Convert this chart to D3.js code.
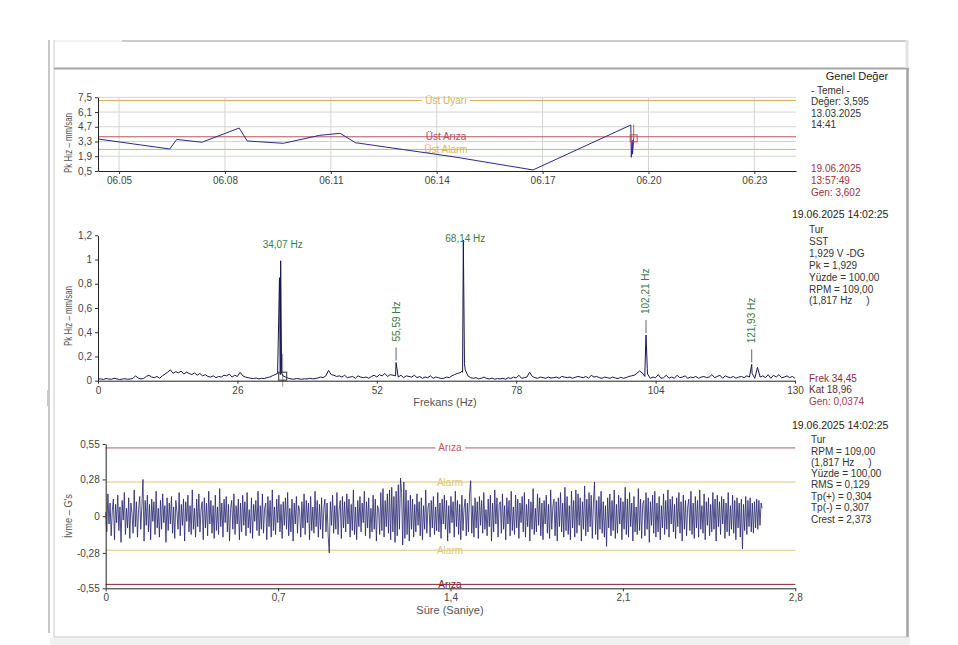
<!doctype html>
<html lang='en'>
<head>
<meta charset='utf-8' />
<style>
  * { margin: 0; padding: 0; }
  body { background: #fff; width: 958px; height: 645px; overflow: hidden; }
  svg { display: block; font-family: 'Liberation Sans', Arial, sans-serif; }
</style>
</head>
<body>
<div id='container'></div>
<script src='https://d3js.org/d3.v7.min.js'></script>
<script>

// --- top: overall value trend ---
var trendDates = ['2025-06-04 09:40', '2025-06-06 10:30', '2025-06-06 15:10', '2025-06-07 08:20',
  '2025-06-08 09:40', '2025-06-08 15:10', '2025-06-09 15:40', '2025-06-10 16:30', '2025-06-11 06:20',
  '2025-06-11 16:40', '2025-06-14 11:00', '2025-06-16 17:30', '2025-06-19 12:00', '2025-06-19 12:20',
  '2025-06-19 13:00', '2025-06-19 13:10', '2025-06-19 13:57'];
var trendValues = [3.54, 2.59, 3.50, 3.23, 4.58, 3.35, 3.13, 3.89, 4.08, 3.19, 1.86, 0.60, 4.87, 1.80, 3.40, 2.10, 3.60];
var trendTicks = ['2025-06-05 00:00', '2025-06-08 00:00', '2025-06-11 00:00', '2025-06-14 00:00',
  '2025-06-17 00:00', '2025-06-20 00:00', '2025-06-23 00:00'];
var trendYTicks = [0.5, 1.9, 3.3, 4.7, 6.1, 7.5];
var trendLimits = [7.2, 3.75, 2.55];
var trendLimitNames = ['Üst Uyarı', 'Üst Arıza', 'Üst Alarm'];
var trendLimitColors = ['#d8b25a', '#b4505c', '#dcb45e'];

// --- middle: spectrum ---
var specStep = 0.5;
var specFloor = [
  0.012,0.015,0.01,0.018,0.014,0.012,0.02,0.015,0.01,0.013,
  0.016,0.012,0.014,0.018,0.04,0.022,0.015,0.018,0.035,0.045,
  0.03,0.025,0.035,0.02,0.04,0.055,0.07,0.09,0.06,0.075,
  0.065,0.08,0.055,0.07,0.06,0.05,0.065,0.045,0.06,0.04,
  0.05,0.035,0.03,0.04,0.025,0.035,0.03,0.045,0.04,0.055,
  0.03,0.045,0.035,0.07,0.04,0.03,0.025,0.02,0.018,0.022,
  0.015,0.02,0.018,0.025,0.03,0.04,0.05,0.06,0.05,0.04,
  0.03,0.02,0.015,0.012,0.018,0.015,0.012,0.016,0.014,0.02,
  0.015,0.018,0.022,0.03,0.025,0.04,0.085,0.05,0.045,0.035,
  0.04,0.03,0.045,0.025,0.03,0.035,0.02,0.04,0.03,0.025,
  0.03,0.02,0.035,0.045,0.03,0.05,0.04,0.06,0.035,0.05,
  0.045,0.04,0.03,0.045,0.025,0.04,0.035,0.03,0.045,0.025,
  0.035,0.02,0.03,0.025,0.04,0.02,0.03,0.025,0.018,0.02,
  0.03,0.025,0.04,0.05,0.06,0.065,0.07,0.09,0.04,0.025,
  0.02,0.025,0.015,0.02,0.03,0.018,0.015,0.022,0.012,0.018,
  0.015,0.02,0.012,0.025,0.018,0.03,0.022,0.045,0.02,0.025,
  0.03,0.07,0.035,0.025,0.02,0.03,0.025,0.02,0.03,0.022,
  0.025,0.03,0.02,0.035,0.03,0.025,0.03,0.02,0.028,0.035,
  0.03,0.025,0.035,0.02,0.045,0.03,0.035,0.025,0.02,0.03,
  0.025,0.02,0.03,0.022,0.018,0.028,0.02,0.025,0.035,0.04,
  0.045,0.06,0.08,0.065,0.035,0.055,0.02,0.03,0.025,0.05,
  0.02,0.025,0.045,0.02,0.03,0.02,0.045,0.025,0.03,0.04,
  0.02,0.03,0.025,0.035,0.02,0.03,0.035,0.025,0.03,0.05,
  0.025,0.035,0.045,0.02,0.04,0.03,0.025,0.035,0.02,0.03,
  0.035,0.025,0.04,0.03,0.06,0.02,0.11,0.03,0.04,0.025,
  0.05,0.02,0.045,0.03,0.05,0.025,0.03,0.04,0.025,0.035,
  0.02];
var specPeakFreqs = [34.07, 55.59, 68.14, 102.21, 121.93];
var specPeakAmps = [0.99, 0.15, 1.16, 0.377, 0.135];
var specPeakLabels = ['34,07 Hz', '55,59 Hz', '68,14 Hz', '102,21 Hz', '121,93 Hz'];
var specPeakVertical = [false, true, false, true, true];
var specSideFreqs = [33.85, 34.25, 67.95, 68.35, 102.0, 102.45];
var specSideAmps = [0.85, 0.06, 0.08, 0.14, 0.07, 0.1];
var specXTicks = [0, 26, 52, 78, 104, 130];
var specYTicks = [0, 0.2, 0.4, 0.6, 0.8, 1, 1.2];
var cursorFreq = 34.45, cursorAmp = 0.0374, cursorTop = 0.22;

// --- bottom: time waveform ---
var waveStep = 0.00445;
var waveValues = [
  0.03,-0.12,0.17,-0.06,0.1,-0.15,0.04,0.13,-0.18,0.09,-0.05,0.16,-0.11,0.07,-0.2,0.12,-0.03,0.18,-0.14,0.06,
  -0.09,0.14,-0.17,0.1,0.02,-0.13,0.2,-0.08,0.11,-0.16,0.05,0.15,-0.1,0.08,0.28,-0.19,0.12,-0.07,0.16,-0.12,
  0.09,-0.18,0.13,-0.04,0.11,-0.14,0.19,-0.09,0.06,-0.16,0.12,-0.1,0.17,-0.05,0.08,-0.2,0.14,-0.11,0.1,-0.06,
  0.15,-0.13,0.07,-0.17,0.12,0.03,-0.1,0.18,-0.15,0.09,-0.07,0.13,-0.19,0.11,-0.04,0.16,-0.12,0.08,-0.14,0.2,
  -0.1,0.06,-0.16,0.13,-0.08,0.17,-0.12,0.05,0.11,-0.18,0.14,-0.09,0.1,-0.15,0.19,-0.06,0.12,-0.13,0.08,-0.17,
  0.16,-0.11,0.07,-0.14,0.21,-0.08,0.1,-0.16,0.13,-0.05,0.15,-0.12,0.09,-0.19,0.06,0.12,-0.1,0.17,-0.14,0.08,
  -0.06,0.13,-0.18,0.1,-0.12,0.16,-0.07,0.11,-0.15,0.18,-0.09,0.05,-0.13,0.14,-0.17,0.09,-0.04,0.12,-0.11,0.19,
  -0.15,0.08,-0.1,0.17,-0.13,0.06,0.1,-0.18,0.15,-0.08,0.12,-0.16,0.2,-0.11,0.07,-0.14,0.13,-0.05,0.16,-0.12,
  0.09,-0.17,0.11,-0.07,0.14,-0.1,0.18,-0.15,0.06,-0.12,0.13,-0.19,0.1,-0.06,0.15,-0.13,0.08,0.04,-0.16,0.11,
  -0.09,0.17,-0.14,0.12,-0.05,0.1,-0.18,0.15,-0.11,0.07,-0.13,0.19,-0.08,0.12,-0.16,0.09,-0.1,0.14,-0.17,0.06,
  0.13,-0.12,0.1,-0.15,-0.28,0.11,-0.07,0.16,-0.13,0.08,-0.1,0.18,-0.14,0.05,0.12,-0.17,0.15,-0.09,0.11,-0.12,
  0.17,-0.06,0.13,-0.16,0.09,-0.11,0.2,-0.14,0.07,-0.18,0.12,-0.08,0.15,-0.12,0.1,-0.05,0.19,-0.15,0.11,-0.09,
  0.14,-0.17,0.06,-0.12,0.16,-0.1,0.13,-0.19,0.08,0.05,-0.14,0.18,-0.11,0.21,-0.16,0.12,-0.08,0.17,-0.13,0.2,
  -0.18,0.22,-0.12,0.15,-0.2,0.19,-0.15,0.24,-0.1,0.29,0.18,-0.22,0.26,-0.17,0.2,-0.14,0.12,-0.19,0.16,-0.1,
  0.13,-0.16,0.09,-0.12,0.17,-0.07,0.11,-0.15,0.14,-0.18,0.08,-0.1,0.2,-0.13,0.06,0.1,-0.16,0.12,-0.09,0.15,
  -0.14,0.07,-0.11,0.18,-0.12,0.1,-0.17,0.13,-0.06,0.16,-0.1,0.12,-0.19,0.08,-0.13,0.15,-0.05,0.11,-0.16,0.19,
  -0.08,0.12,-0.14,0.09,-0.18,0.16,-0.11,0.06,0.13,-0.15,0.1,-0.12,0.17,0.27,-0.13,0.08,-0.16,0.14,-0.09,0.11,
  -0.17,0.15,-0.07,0.12,-0.13,0.18,-0.1,0.05,-0.15,0.13,-0.08,0.16,-0.19,0.1,-0.12,0.2,-0.06,0.14,-0.16,0.09,
  0.11,-0.13,0.17,-0.1,0.08,-0.18,0.14,-0.06,0.12,-0.15,0.19,-0.11,0.07,-0.14,0.16,-0.09,0.13,-0.17,0.1,-0.05,
  0.15,-0.12,0.18,-0.16,0.09,-0.08,0.13,-0.19,0.11,-0.1,0.21,-0.14,0.06,-0.12,0.17,-0.07,0.14,-0.15,0.1,-0.18,
  0.12,-0.06,0.16,-0.13,0.09,-0.17,0.2,-0.1,0.07,0.13,-0.15,0.11,-0.19,0.14,-0.08,0.18,-0.12,0.1,-0.16,0.22,
  -0.11,0.15,-0.14,0.08,-0.18,0.19,-0.09,0.12,-0.16,0.2,-0.13,0.17,-0.07,0.14,-0.19,0.11,-0.1,0.23,-0.15,0.13,
  -0.12,0.18,-0.08,0.16,-0.17,0.1,0.26,-0.14,0.12,-0.18,0.15,-0.1,0.19,-0.13,0.11,-0.16,0.08,-0.23,0.14,-0.09,
  0.17,-0.15,0.12,-0.11,0.2,-0.17,0.09,-0.13,0.16,-0.06,0.14,-0.18,0.11,-0.1,0.22,-0.14,0.13,-0.16,0.18,-0.08,
  0.1,-0.19,0.15,-0.12,0.07,-0.14,0.21,-0.11,0.13,-0.17,0.09,0.12,-0.15,0.18,-0.1,0.14,-0.2,0.11,-0.07,0.16,
  -0.13,0.19,-0.16,0.1,-0.12,0.15,-0.18,0.08,-0.09,0.17,-0.14,0.12,-0.1,0.2,-0.16,0.13,-0.06,0.15,-0.12,0.09,
  -0.17,0.14,-0.08,0.18,-0.13,0.11,-0.19,0.16,-0.1,0.12,-0.15,0.07,0.13,-0.11,0.19,-0.14,0.1,-0.17,0.15,-0.09,
  0.12,-0.16,0.2,-0.1,0.08,-0.13,0.17,-0.18,0.11,-0.07,0.14,-0.15,0.09,-0.12,0.18,-0.1,0.13,-0.19,0.16,-0.08,
  0.11,-0.14,0.15,-0.06,0.13,-0.17,0.1,-0.12,0.18,-0.15,0.08,-0.1,0.16,-0.13,0.12,-0.18,0.14,-0.09,0.1,-0.16,
  0.13,-0.25,0.09,-0.11,0.15,-0.14,0.12,-0.08,0.14,-0.12,0.1,-0.13,0.11,-0.09,0.13,-0.1,0.12,-0.07,0.1,0.06];
var waveXTicks = [0, 0.7, 1.4, 2.1, 2.8];
var waveYTicks = [-0.55, -0.28, 0, 0.28, 0.55];
var waveLimits = [0.52, 0.26, -0.26, -0.52];
var waveLimitNames = ['Arıza', 'Alarm', 'Alarm', 'Arıza'];
var waveLimitColors = ['#b85868', '#e2c47a', '#e2c47a', '#8a2030'];

// side texts: [x, y, text, colour, size, anchor]
var sideTexts = [
  [857, 80, 'Genel Değer', '#222', 11, 'middle'],
  [811, 94, '- Temel -', '#333', 10], [811, 105, 'Değer: 3,595', '#333', 10],
  [811, 117, '13.03.2025', '#333', 10], [811, 128, '14:41', '#333', 10],
  [811, 172, '19.06.2025', '#a0303c', 10], [811, 184, '13:57:49', '#a0303c', 10],
  [811, 196, 'Gen: 3,602', '#a0303c', 10],
  [792, 218, '19.06.2025 14:02:25', '#222', 10.5],
  [809, 233, 'Tur', '#333', 10], [809, 245, 'SST', '#333', 10], [809, 257, '1,929 V -DG', '#333', 10],
  [809, 269, 'Pk = 1,929', '#333', 10], [809, 281, 'Yüzde = 100,00', '#333', 10],
  [809, 293, 'RPM = 109,00', '#333', 10], [809, 304, '(1,817 Hz     )', '#333', 10],
  [809, 382, 'Frek 34,45', '#8c2a38', 10], [809, 393, 'Kat 18,96', '#5a2a30', 10],
  [809, 405, 'Gen: 0,0374', '#a04050', 10],
  [792, 429, '19.06.2025 14:02:25', '#222', 10.5],
  [811, 443, 'Tur', '#333', 10], [811, 455, 'RPM = 109,00', '#333', 10], [811, 466, '(1,817 Hz     )', '#333', 10],
  [811, 477, 'Yüzde = 100,00', '#333', 10], [811, 488, 'RMS = 0,129', '#333', 10],
  [811, 500, 'Tp(+) = 0,304', '#333', 10], [811, 511, 'Tp(-) = 0,307', '#333', 10],
  [811, 523, 'Crest = 2,373', '#333', 10]];

var comma = function(d) { return String(d).replace('.', ','); };
var parse = d3.timeParse('%Y-%m-%d %H:%M');

var svg = d3.select('#container').append('svg')
  .attr('width', 958).attr('height', 645);

// window frame
var frame = svg.append('g').attr('fill', 'none');
frame.append('line').attr('x1', 54).attr('x2', 122).attr('y1', 41).attr('y2', 41).attr('stroke', '#ececec').attr('stroke-width', 1.5);
frame.append('line').attr('x1', 122).attr('x2', 906).attr('y1', 41).attr('y2', 41).attr('stroke', '#cdcdcd').attr('stroke-width', 2);
frame.append('line').attr('x1', 49).attr('x2', 49).attr('y1', 40).attr('y2', 633).attr('stroke', '#b4b4b4').attr('stroke-width', 1.5);
frame.append('line').attr('x1', 54).attr('x2', 54).attr('y1', 40).attr('y2', 637).attr('stroke', '#c8c8c8').attr('stroke-width', 1);
frame.append('line').attr('x1', 54).attr('x2', 909).attr('y1', 68.5).attr('y2', 68.5).attr('stroke', '#a8a8a8').attr('stroke-width', 2);
frame.append('line').attr('x1', 907).attr('x2', 907).attr('y1', 40).attr('y2', 68).attr('stroke', '#e2e2e2').attr('stroke-width', 3);
frame.append('line').attr('x1', 907.5).attr('x2', 907.5).attr('y1', 68).attr('y2', 637).attr('stroke', '#a2a2a2').attr('stroke-width', 2.5);
frame.append('line').attr('x1', 54).attr('x2', 909).attr('y1', 637).attr('y2', 637).attr('stroke', '#c4c4c4').attr('stroke-width', 1);
frame.append('rect').attr('x', 50).attr('y', 638).attr('width', 860).attr('height', 7).attr('fill', '#f1f1f1');
frame.append('rect').attr('x', 47).attr('y', 390).attr('width', 3).attr('height', 16).attr('fill', '#c9c9c9');

function styleAxis(g) {
  g.selectAll('.domain').attr('stroke', '#222');
  g.selectAll('.tick line').attr('stroke', '#333');
  g.selectAll('.tick text').attr('fill', '#444').style('font-size', '10px')
    .style('font-family', "'Liberation Sans', Arial, sans-serif");
}

function axisTitle(x, y, text, rotate, len) {
  var t = svg.append('text').attr('x', x).attr('y', y).attr('text-anchor', 'middle')
    .attr('fill', '#555').style('font-size', '11px').text(text);
  if (rotate) t.attr('transform', 'rotate(-90,' + x + ',' + y + ')');
  if (len) t.attr('textLength', len).attr('lengthAdjust', 'spacingAndGlyphs');
}

function limitLine(g, x0, x1, y, name, color, cx) {
  g.append('line').attr('x1', x0).attr('x2', x1).attr('y1', y).attr('y2', y)
    .attr('stroke', color).attr('stroke-width', 1);
  var t = g.append('text').attr('x', cx).attr('y', y + 3.5).attr('text-anchor', 'middle')
    .attr('fill', color).style('font-size', '10px').text(name);
  var b = t.node().getBBox();
  g.insert('rect', 'text').attr('x', b.x - 3).attr('y', y - 1).attr('width', b.width + 6).attr('height', 2)
    .attr('fill', '#fff');
}

// ---------------- top panel ----------------
var xT = d3.scaleTime().domain([parse('2025-06-04 09:40'), parse('2025-06-24 04:20')]).range([98, 796]);
var yT = d3.scaleLinear().domain([0.5, 7.5]).range([171, 97.3]);
var topG = svg.append('g');

topG.selectAll('.hgrid').data(trendYTicks.slice(1)).enter().append('line')
  .attr('x1', xT.range()[0]).attr('x2', xT.range()[1])
  .attr('y1', function(d) { return yT(d); }).attr('y2', function(d) { return yT(d); })
  .attr('stroke', '#d4d4d4');
topG.selectAll('.vgrid').data(trendTicks).enter().append('line')
  .attr('x1', function(d) { return xT(parse(d)); }).attr('x2', function(d) { return xT(parse(d)); })
  .attr('y1', yT(7.5)).attr('y2', yT(0.5))
  .attr('stroke', '#d4d4d4');

trendLimits.forEach(function(v, i) {
  limitLine(topG, 98, 796, yT(v), trendLimitNames[i], trendLimitColors[i], 446);
});

topG.append('clipPath').attr('id', 'clipT').append('rect')
  .attr('x', 98).attr('y', 95).attr('width', 698).attr('height', 78);
var trendLine = d3.line()
  .x(function(d, i) { return xT(parse(trendDates[i])); })
  .y(function(d) { return yT(d); });
topG.append('path').datum(trendValues).attr('d', trendLine).attr('clip-path', 'url(#clipT)')
  .attr('fill', 'none').attr('stroke', '#2a2a86').attr('stroke-width', 1);

var lastI = trendValues.length - 1;
var lx = xT(parse(trendDates[lastI])), lv = trendValues[lastI];
topG.append('line').attr('x1', lx).attr('x2', lx).attr('y1', yT(lv + 1.3)).attr('y2', yT(lv))
  .attr('stroke', '#d05060').attr('stroke-width', 1);
topG.append('rect').attr('x', lx - 3.5).attr('y', yT(lv) - 3.5).attr('width', 7).attr('height', 7)
  .attr('fill', 'none').attr('stroke', '#d04858').attr('stroke-width', 1);

topG.append('g').attr('transform', 'translate(98,0)')
  .call(d3.axisLeft(yT).tickValues(trendYTicks).tickSize(3).tickSizeOuter(0).tickFormat(comma))
  .call(styleAxis);
topG.append('g').attr('transform', 'translate(0,171)')
  .call(d3.axisBottom(xT).tickValues(trendTicks.map(parse)).tickSize(3).tickSizeOuter(0)
    .tickFormat(d3.timeFormat('%m.%d')))
  .call(styleAxis);
axisTitle(72, 143, 'Pk Hız – mm/san', true, 60);

// ---------------- middle panel ----------------
var xS = d3.scaleLinear().domain([0, 130]).range([98, 795]);
var yS = d3.scaleLinear().domain([0, 1.2]).range([380.7, 235.3]);
var midG = svg.append('g');

var specPoints = specFloor.map(function(v, i) { return [i * specStep, v]; })
  .concat(specPeakFreqs.map(function(f, i) { return [f, specPeakAmps[i]]; }))
  .concat(specSideFreqs.map(function(f, i) { return [f, specSideAmps[i]]; }))
  .sort(function(a, b) { return a[0] - b[0]; });

midG.append('line').attr('x1', xS(cursorFreq)).attr('x2', xS(cursorFreq))
  .attr('y1', yS(cursorTop)).attr('y2', yS(0) + 6).attr('stroke', '#999').attr('stroke-width', 1);

midG.append('path').datum(specPoints)
  .attr('d', d3.line().x(function(d) { return xS(d[0]); }).y(function(d) { return yS(d[1]); }))
  .attr('fill', 'none').attr('stroke', '#161650').attr('stroke-width', 1);

midG.append('rect').attr('x', xS(cursorFreq) - 4).attr('y', yS(cursorAmp) - 4).attr('width', 8).attr('height', 8)
  .attr('fill', 'none').attr('stroke', '#333').attr('stroke-width', 1);

specPeakFreqs.forEach(function(f, i) {
  var px = xS(f), py = yS(specPeakAmps[i]);
  if (specPeakVertical[i]) {
    midG.append('line').attr('x1', px).attr('x2', px).attr('y1', py - 15).attr('y2', py - 2)
      .attr('stroke', '#5a6a5e').attr('stroke-width', 1);
    midG.append('text').attr('x', px + 3.5).attr('y', py - 21)
      .attr('transform', 'rotate(-90,' + (px + 3.5) + ',' + (py - 21) + ')')
      .attr('fill', '#3d7a4c').style('font-size', '10px').text(specPeakLabels[i]);
  } else {
    // labels of peaks near the top sit on the peak itself
    var ly = py - 13 < 236 ? 242 : py - 13;
    midG.append('text').attr('x', px + 2).attr('y', ly).attr('text-anchor', 'middle')
      .attr('fill', '#3d7a4c').style('font-size', '10px').text(specPeakLabels[i]);
  }
});

midG.append('g').attr('transform', 'translate(98,0)')
  .call(d3.axisLeft(yS).tickValues(specYTicks).tickSize(3).tickSizeOuter(0).tickFormat(comma))
  .call(styleAxis);
midG.append('g').attr('transform', 'translate(0,380.7)')
  .call(d3.axisBottom(xS).tickValues(specXTicks).tickSize(3).tickSizeOuter(0).tickFormat(comma))
  .call(styleAxis);
axisTitle(72, 316, 'Pk Hız – mm/san', true, 60);
axisTitle(445, 406, 'Frekans (Hz)', false);

// ---------------- bottom panel ----------------
var xW = d3.scaleLinear().domain([0, 2.8]).range([105.7, 795.3]);
var yW = d3.scaleLinear().domain([-0.55, 0.55]).range([588.3, 444]);
var botG = svg.append('g');

waveLimits.forEach(function(v, i) {
  limitLine(botG, 105.7, 795.3, yW(v), waveLimitNames[i], waveLimitColors[i], 450);
});

botG.append('path').datum(waveValues)
  .attr('d', d3.line().x(function(d, i) { return xW(i * waveStep); }).y(function(d) { return yW(d); }))
  .attr('fill', 'none').attr('stroke', '#22226c').attr('stroke-width', 0.8);

botG.append('g').attr('transform', 'translate(105.7,0)')
  .call(d3.axisLeft(yW).tickValues(waveYTicks).tickSize(3).tickSizeOuter(0).tickFormat(comma))
  .call(styleAxis);
botG.append('g').attr('transform', 'translate(0,588.3)')
  .call(d3.axisBottom(xW).tickValues(waveXTicks).tickSize(3).tickSizeOuter(0).tickFormat(comma))
  .call(styleAxis);
axisTitle(72, 516, 'İvme – G\'s', true, 44);
axisTitle(450, 614, 'Süre (Saniye)', false);

// ---------------- side texts ----------------
svg.append('g').selectAll('text').data(sideTexts).enter().append('text')
  .attr('x', function(d) { return d[0]; }).attr('y', function(d) { return d[1]; })
  .attr('text-anchor', function(d) { return d[5] || 'start'; })
  .attr('fill', function(d) { return d[3]; })
  .style('font-size', function(d) { return d[4] + 'px'; })
  .style('white-space', 'pre')
  .text(function(d) { return d[2]; });
</script>
</body>
</html>
